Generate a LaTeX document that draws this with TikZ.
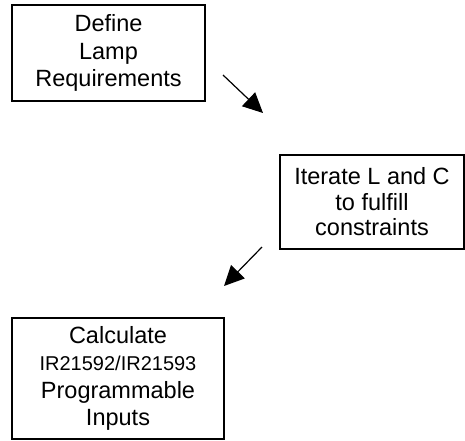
\documentclass[tikz,border=0pt]{standalone}
\usepackage{fontspec}
\setmainfont{Liberation Sans}
\usetikzlibrary{arrows.meta}
\begin{document}
\begin{tikzpicture}[x=1pt,y=-1pt,
  box/.style={draw=black,line width=1.3pt,inner sep=0pt,align=center,
    font=\fontsize{23.5}{27.5}\selectfont},
  arr/.style={line width=1.2pt,-{Triangle[length=20pt,width=19pt]}}]
\useasboundingbox (0,0) rectangle (465,440);
\node[box,minimum width=193pt,minimum height=96pt] (def) at (108.5,53) {Define\\Lamp\\Requirements};
\node[box,minimum width=184pt,minimum height=94pt,font=\fontsize{23.5}{25.5}\selectfont] (iter) at (372,202) {Iterate L and C\\to fulfill\\constraints};
\node[box,minimum width=212pt,minimum height=121pt] (calc) at (118,378.5) {Calculate\\{\fontsize{20}{28}\selectfont IR21592/IR21593}\\Programmable\\Inputs};
\coordinate (a1s) at (223,75);
\coordinate (a1e) at (263,113);
\coordinate (a2s) at (262,247);
\coordinate (a2e) at (224,286);
\draw[arr] (a1s) -- (a1e);
\draw[arr] (a2s) -- (a2e);
\end{tikzpicture}
\end{document}
